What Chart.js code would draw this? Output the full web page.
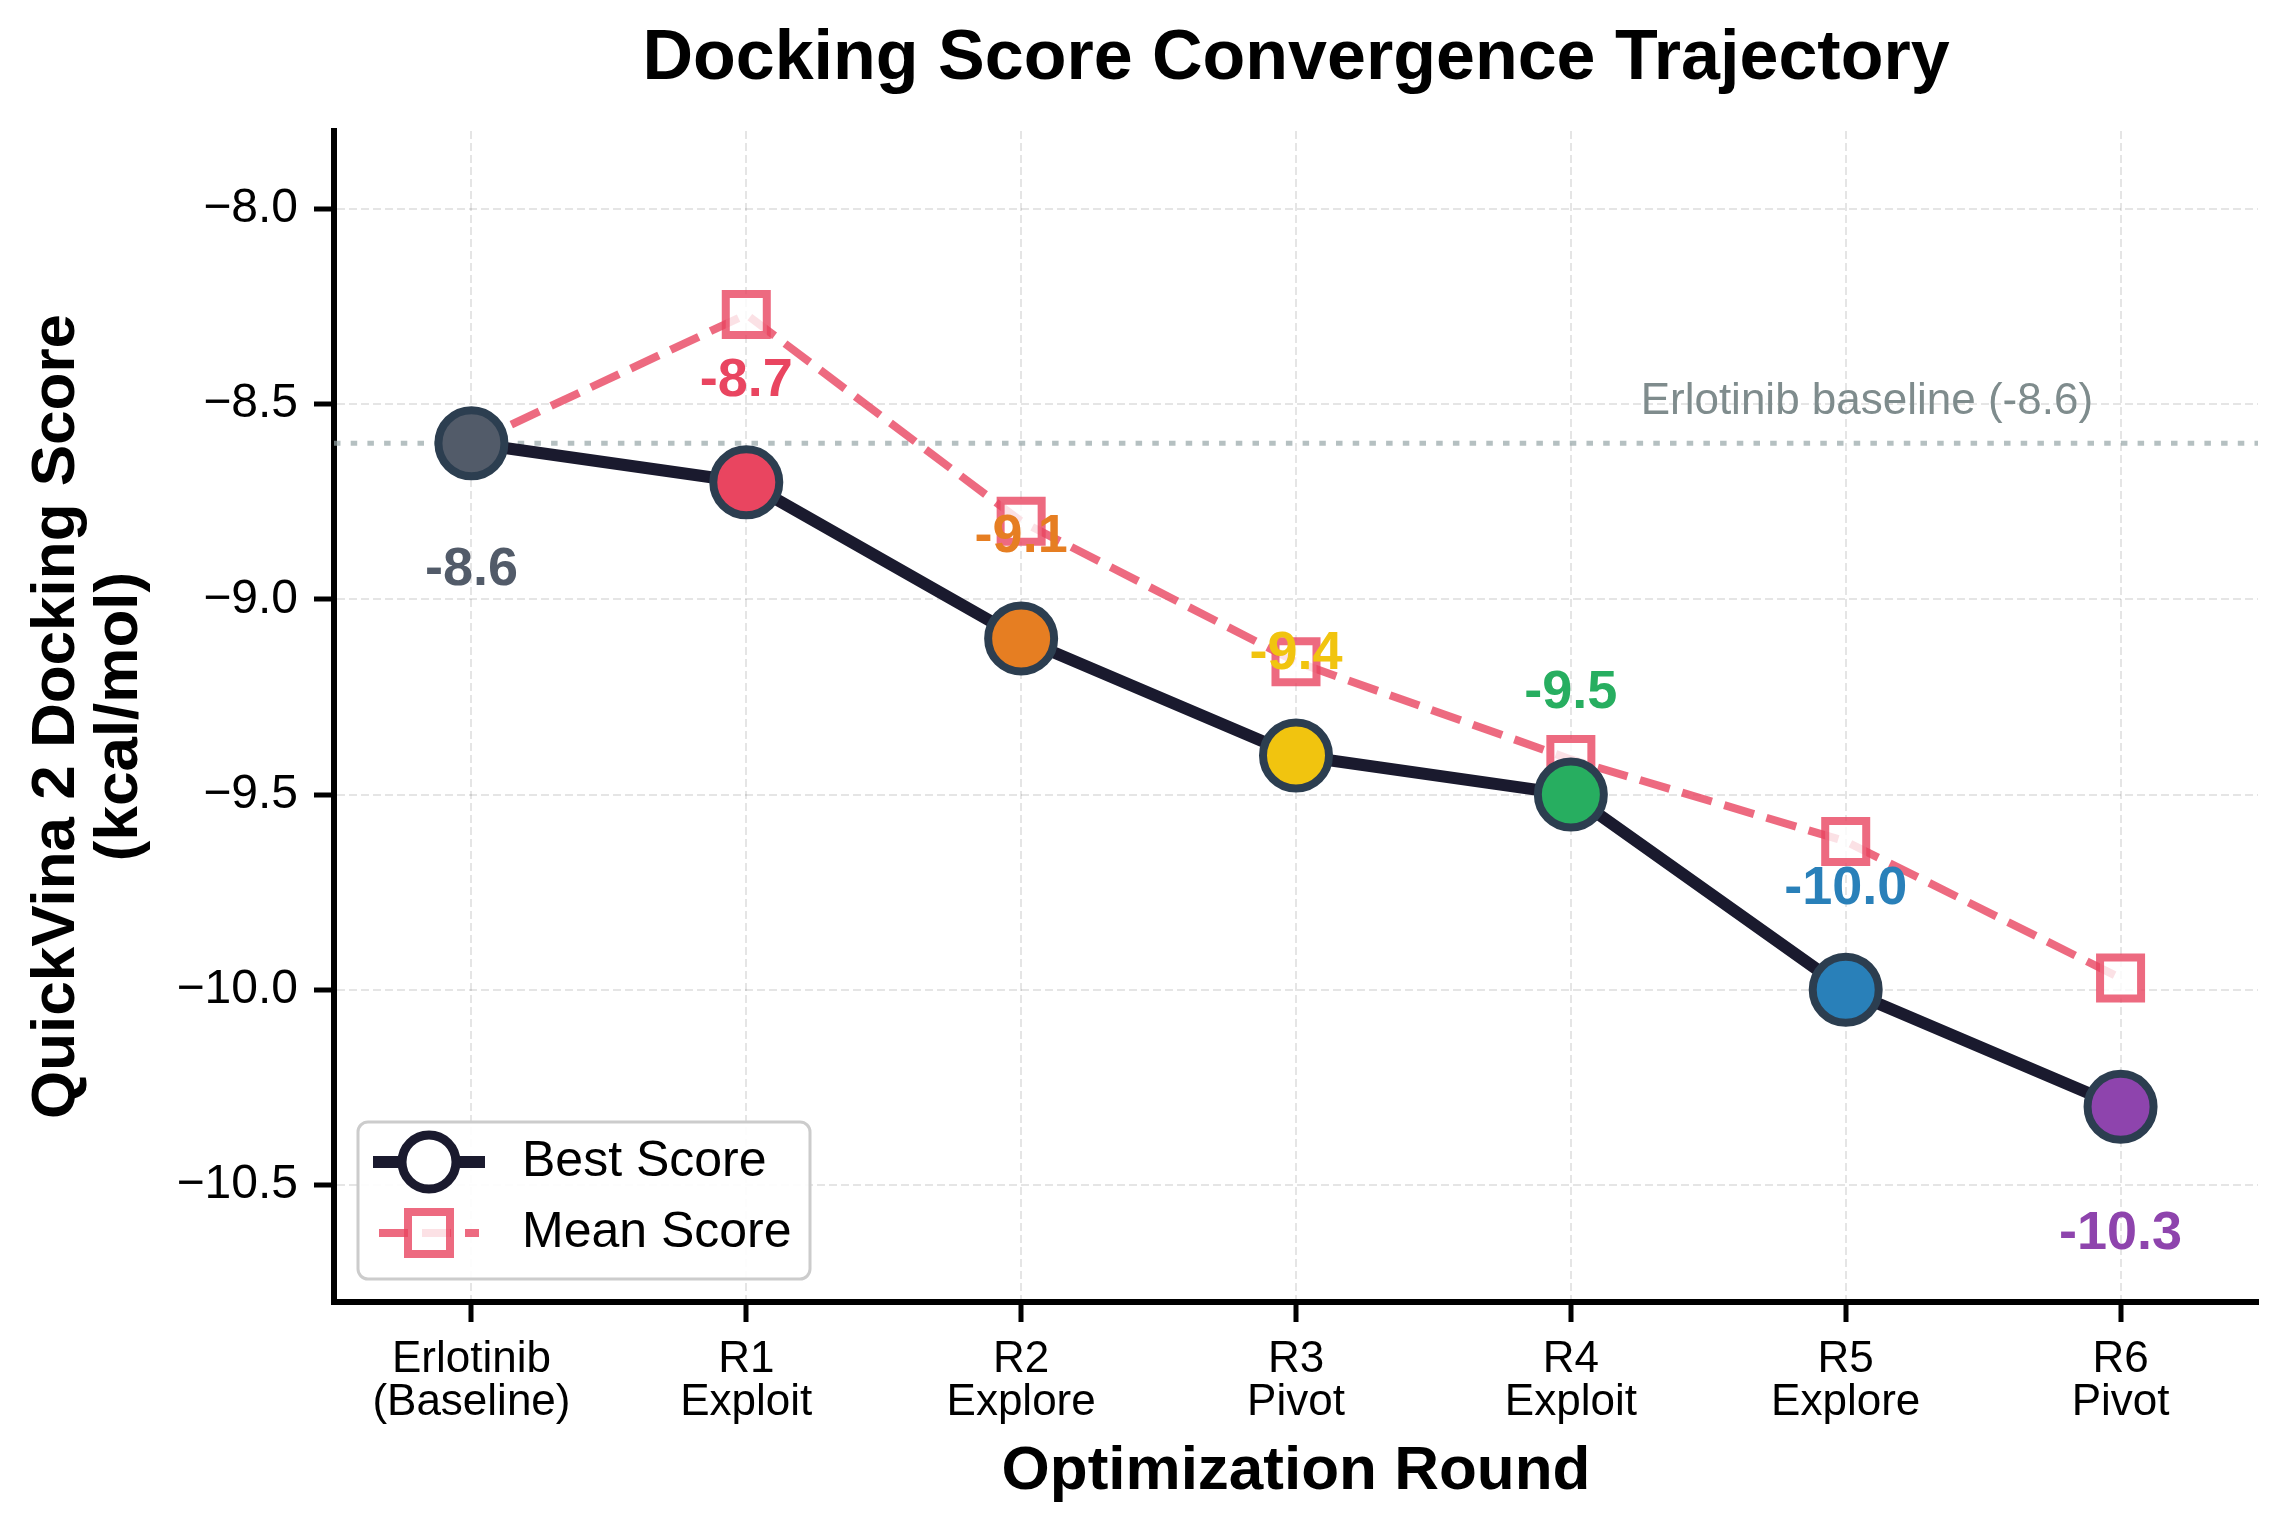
<!DOCTYPE html>
<html>
<head>
<meta charset="utf-8">
<title>Docking Score Convergence Trajectory</title>
<script src="https://cdn.jsdelivr.net/npm/chart.js@4.4.0/dist/chart.umd.min.js"></script>
<style>
  html, body { margin: 0; padding: 0; background: #ffffff; }
  canvas { display: block; }
</style>
</head>
<body>
<canvas id="chart" width="2287" height="1536"></canvas>
<script>
// Data
const rounds = [
    ["Erlotinib", "(Baseline)"],
    ["R1", "Exploit"],
    ["R2", "Explore"],
    ["R3", "Pivot"],
    ["R4", "Exploit"],
    ["R5", "Explore"],
    ["R6", "Pivot"]
];
const bestScores = [-8.6, -8.7, -9.1, -9.4, -9.5, -10.0, -10.3];
const meanScores = [-8.6, -8.27, -8.80, -9.16, -9.41, -9.62, -9.97];
const pointColors = ["#525b69", "#e94560", "#e67e22", "#f1c40f", "#27ae60", "#2980b9", "#8e44ad"];
const labelBelow = [true, false, false, false, false, false, true];
const yTicks = [-10.5, -10.0, -9.5, -9.0, -8.5, -8.0];
const baselineScore = -8.6;
const baselineNote = "Erlotinib baseline (-8.6)";

const FONT = '"Liberation Sans", Arial, Helvetica, sans-serif';
const MEAN_COLOR = "rgba(233, 69, 96, 0.8)";
const BEST_LINE = "#1a1a2e";
const EDGE = "#2c3e50";

Chart.defaults.font.family = FONT;
Chart.defaults.color = "#000000";

// Dotted baseline and its note, under the data lines
const baselinePlugin = {
    id: "baseline",
    beforeDatasetsDraw(chart) {
        const { ctx, chartArea, scales } = chart;
        const y = scales.y.getPixelForValue(baselineScore);
        ctx.save();
        ctx.strokeStyle = "rgba(149, 165, 166, 0.7)";
        ctx.lineWidth = 5;
        ctx.setLineDash([6.5, 10.2]);
        ctx.beginPath();
        ctx.moveTo(chartArea.left, y);
        ctx.lineTo(chartArea.right, y);
        ctx.stroke();
        ctx.setLineDash([]);
        ctx.font = "44px " + FONT;
        ctx.fillStyle = "#7f8c8d";
        ctx.textAlign = "right";
        ctx.textBaseline = "bottom";
        ctx.fillText(baselineNote, scales.x.getPixelForValue(5.9), scales.y.getPixelForValue(-8.55));
        ctx.restore();
    }
};

// Value labels next to the best-score markers
const valueLabelPlugin = {
    id: "valueLabels",
    afterDatasetsDraw(chart) {
        const meta = chart.getDatasetMeta(0);
        const ctx = chart.ctx;
        ctx.save();
        ctx.font = "bold 54px " + FONT;
        ctx.textAlign = "center";
        ctx.textBaseline = "middle";
        meta.data.forEach((pt, i) => {
            ctx.fillStyle = pointColors[i];
            const dy = labelBelow[i] ? 127 : -101;
            ctx.fillText(bestScores[i].toFixed(1), pt.x, pt.y + dy);
        });
        ctx.restore();
    }
};

// Matplotlib-like legend box in the lower left
const legendPlugin = {
    id: "boxLegend",
    afterDraw(chart) {
        const { ctx, chartArea } = chart;
        const left = chartArea.left + 24;
        const right = left + 452;
        const bottom = chartArea.bottom - 23;
        const top = bottom - 157;
        ctx.save();
        ctx.beginPath();
        ctx.roundRect(left, top, right - left, bottom - top, 10);
        ctx.fillStyle = "rgba(255, 255, 255, 0.9)";
        ctx.fill();
        ctx.lineWidth = 3;
        ctx.strokeStyle = "#cccccc";
        ctx.stroke();

        const x0 = left + 15, x1 = left + 127, mx = left + 71;
        const y1 = top + 40, y2 = top + 111;

        // Best score entry
        ctx.strokeStyle = BEST_LINE;
        ctx.lineWidth = 12;
        ctx.beginPath();
        ctx.moveTo(x0, y1);
        ctx.lineTo(x1, y1);
        ctx.stroke();
        ctx.beginPath();
        ctx.arc(mx, y1, 27, 0, Math.PI * 2);
        ctx.fillStyle = "#ffffff";
        ctx.fill();
        ctx.lineWidth = 9;
        ctx.stroke();

        // Mean score entry
        ctx.strokeStyle = MEAN_COLOR;
        ctx.lineWidth = 8;
        ctx.setLineDash([29, 14]);
        ctx.beginPath();
        ctx.moveTo(x0 + 6, y2);
        ctx.lineTo(x1 - 6, y2);
        ctx.stroke();
        ctx.setLineDash([]);
        ctx.beginPath();
        ctx.rect(mx - 21, y2 - 21, 42, 42);
        ctx.fillStyle = "rgba(255, 255, 255, 0.8)";
        ctx.fill();
        ctx.stroke();

        ctx.font = "50px " + FONT;
        ctx.fillStyle = "#000000";
        ctx.textAlign = "left";
        ctx.textBaseline = "middle";
        ctx.fillText("Best Score", left + 164, y1);
        ctx.fillText("Mean Score", left + 164, y2);
        ctx.restore();
    }
};

const ctx = document.getElementById("chart").getContext("2d");

new Chart(ctx, {
    type: "line",
    data: {
        labels: rounds,
        datasets: [
            {
                label: "Best Score",
                data: bestScores,
                borderColor: BEST_LINE,
                borderWidth: 12,
                borderJoinStyle: "round",
                tension: 0,
                pointStyle: "circle",
                pointRadius: 33,
                pointBackgroundColor: pointColors,
                pointBorderColor: EDGE,
                pointBorderWidth: 8
            },
            {
                label: "Mean Score",
                data: meanScores,
                borderColor: MEAN_COLOR,
                borderWidth: 8,
                borderDash: [31, 13],
                tension: 0,
                pointStyle: "rect",
                pointRadius: 29,
                pointBackgroundColor: "rgba(255, 255, 255, 0.8)",
                pointBorderColor: MEAN_COLOR,
                pointBorderWidth: 8
            }
        ]
    },
    options: {
        responsive: false,
        animation: false,
        devicePixelRatio: 1,
        events: [],
        layout: {
            autoPadding: false,
            padding: { left: 0, right: 29, top: 0, bottom: 0 }
        },
        plugins: {
            legend: { display: false },
            tooltip: { enabled: false },
            title: {
                display: true,
                text: "Docking Score Convergence Trajectory",
                fullSize: false,
                color: "#000000",
                font: { size: 70, weight: "bold", lineHeight: 1.2 },
                padding: { top: 18, bottom: 29 }
            }
        },
        scales: {
            x: {
                type: "category",
                offset: true,
                afterFit: (scale) => {
                    scale.height = 234;
                    scale.paddingLeft = 0;
                    scale.paddingRight = 0;
                },
                grid: {
                    offset: false,
                    color: "rgba(0, 0, 0, 0.1)",
                    lineWidth: 2,
                    drawTicks: true,
                    tickLength: 20,
                    tickColor: "#000000",
                    tickWidth: 5,
                    tickBorderDash: []
                },
                border: { display: true, color: "#000000", width: 6, dash: [8, 4] },
                ticks: {
                    color: "#000000",
                    padding: 17,
                    maxRotation: 0,
                    autoSkip: false,
                    font: { size: 44, lineHeight: 0.96 }
                },
                title: {
                    display: true,
                    text: "Optimization Round",
                    color: "#000000",
                    font: { size: 62, weight: "bold", lineHeight: 1.2 },
                    padding: { top: 0, bottom: 27 }
                }
            },
            y: {
                type: "linear",
                min: -10.8,
                max: -7.8,
                afterFit: (scale) => { scale.width = 334; },
                afterBuildTicks: (scale) => {
                    scale.ticks = yTicks.map((v) => ({ value: v }));
                },
                grid: {
                    color: "rgba(0, 0, 0, 0.1)",
                    lineWidth: 2,
                    drawTicks: true,
                    tickLength: 20,
                    tickColor: "#000000",
                    tickWidth: 5,
                    tickBorderDash: []
                },
                border: { display: true, color: "#000000", width: 6, dash: [8, 4] },
                ticks: {
                    color: "#000000",
                    padding: 16,
                    font: { size: 48 },
                    callback: (value) => Number(value).toFixed(1).replace("-", "\u2212")
                },
                title: {
                    display: true,
                    text: ["QuickVina 2 Docking Score", "(kcal/mol)"],
                    color: "#000000",
                    font: { size: 62, weight: "bold", lineHeight: 1.02 },
                    padding: { top: 25, bottom: 0 }
                }
            }
        }
    },
    plugins: [baselinePlugin, valueLabelPlugin, legendPlugin]
});
</script>
</body>
</html>
